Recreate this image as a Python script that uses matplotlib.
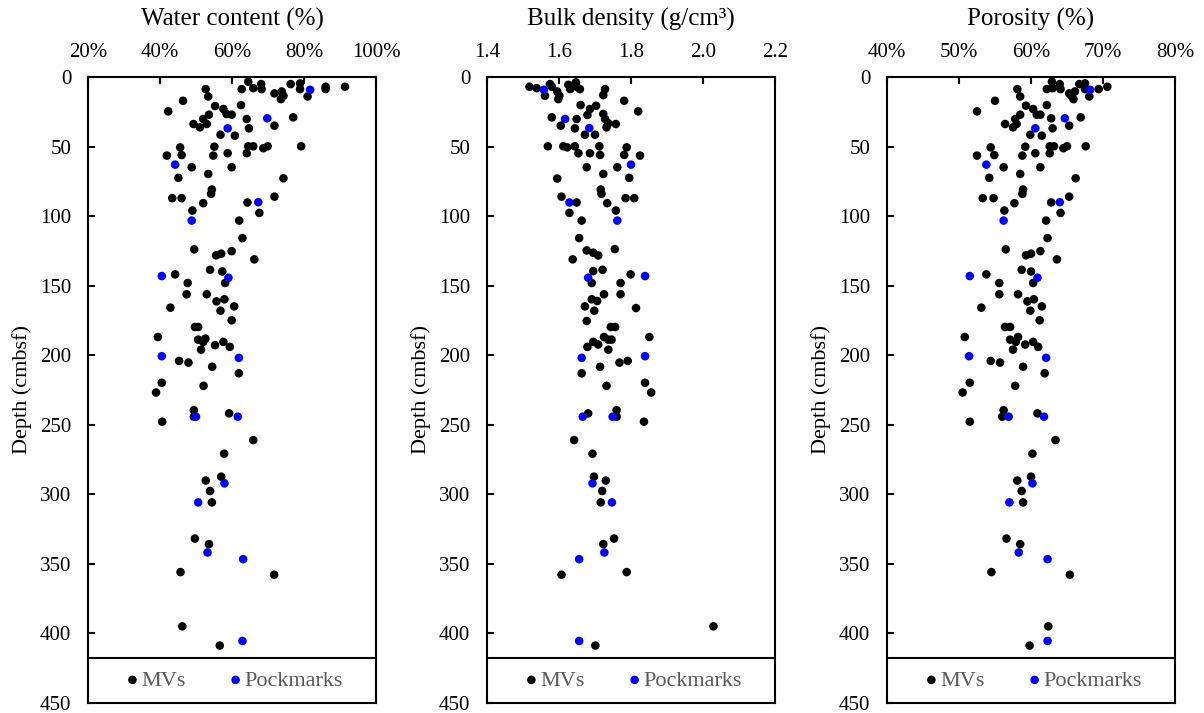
import matplotlib
matplotlib.use('Agg')
import matplotlib.pyplot as plt

plt.rcParams['font.family'] = ['Liberation Serif', 'DejaVu Serif']

# ---- Water content (%) ----
wc_mv = [64.5, 62.7, 65.9, 68.1, 68.2, 76.3, 78.9, 78.9, 81.0, 86.0, 86.0, 91.4, 71.8, 73.8, 74.3, 73.6,
         52.7, 53.4, 46.4, 42.3, 55.3, 57.6, 58.5, 59.9, 62.5, 64.1, 71.8, 77.0, 49.3, 51.1, 52.0, 53.0,
         53.6, 56.8, 60.8, 64.7, 55.1, 54.8, 58.8, 64.5, 65.9, 64.1, 68.7, 69.9, 79.2, 45.6, 46.0, 41.9,
         48.8, 59.9, 53.4, 45.1, 74.3, 54.4, 54.2, 43.4, 46.0, 52.0, 64.3, 71.8, 67.6, 49.0, 62.0, 62.9,
         49.5, 55.6, 57.0, 59.9, 66.2, 53.9, 57.3, 44.2, 47.7, 58.1, 47.4, 53.0, 55.7, 57.9, 60.6, 42.9,
         56.8, 59.9, 49.7, 50.6, 39.4, 50.6, 52.6, 52.0, 51.4, 55.3, 57.6, 59.4, 45.3, 47.9, 54.5, 61.9,
         40.5, 38.9, 52.1, 49.4, 49.4, 59.2, 40.6, 65.9, 57.8, 57.0, 52.7, 53.9, 54.4, 49.7, 53.6, 45.7,
         71.7, 46.2, 56.6]
wc_mv_depth = [3.4, 8.7, 8.0, 5.1, 8.7, 5.1, 4.6, 8.7, 14.0, 7.0, 8.7, 7.0, 11.8, 10.4, 13.5, 15.9,
               8.7, 14.0, 17.1, 24.7, 20.9, 23.0, 26.6, 27.1, 20.2, 30.2, 35.0, 29.0, 33.8, 36.2, 30.2, 33.8,
               27.1, 41.5, 42.2, 36.9, 50.1, 56.5, 54.8, 49.8, 49.8, 54.8, 51.2, 49.8, 49.8, 50.6, 56.1, 56.5,
               64.9, 64.9, 69.7, 72.5, 72.8, 80.9, 84.0, 87.1, 87.1, 90.7, 90.2, 86.0, 97.7, 96.0, 103.2, 115.8,
               123.9, 128.2, 127.0, 125.2, 131.1, 138.6, 139.8, 141.9, 148.1, 148.1, 156.2, 156.2, 161.3, 159.8, 164.9, 165.8,
               168.0, 174.9, 179.7, 179.7, 186.9, 188.8, 188.1, 190.4, 196.0, 192.8, 190.4, 194.0, 204.1, 205.3, 208.3, 213.0,
               219.8, 226.8, 222.0, 239.5, 244.2, 241.8, 247.8, 261.0, 270.8, 287.3, 290.1, 297.6, 305.8, 331.8, 335.8, 355.9,
               357.8, 394.9, 408.7]
wc_pm = [81.7, 69.8, 58.8, 44.2, 67.3, 48.8, 40.5, 59.0, 40.5, 61.9, 50.0, 61.6, 57.9, 50.6, 53.2, 63.1, 62.9]
wc_pm_depth = [9.2, 29.7, 36.9, 63.0, 90.0, 103.2, 143.1, 144.3, 200.7, 201.9, 244.2, 244.2, 292.1, 305.8,
               341.8, 346.6, 405.4]

# ---- Bulk density (g/cm3) ----
bd_mv = [1.518, 1.538, 1.561, 1.575, 1.580, 1.595, 1.601, 1.598, 1.626, 1.631, 1.647, 1.649, 1.658, 1.728,
         1.723, 1.781, 1.820, 1.660, 1.686, 1.703, 1.679, 1.723, 1.728, 1.737, 1.758, 1.732, 1.580, 1.605,
         1.649, 1.644, 1.672, 1.700, 1.569, 1.612, 1.623, 1.644, 1.654, 1.686, 1.712, 1.714, 1.788, 1.781,
         1.825, 1.677, 1.762, 1.723, 1.795, 1.595, 1.716, 1.718, 1.607, 1.649, 1.734, 1.785, 1.809, 1.758,
         1.629, 1.663, 1.656, 1.677, 1.695, 1.709, 1.755, 1.638, 1.695, 1.721, 1.799, 1.691, 1.771, 1.725,
         1.771, 1.691, 1.706, 1.672, 1.698, 1.814, 1.677, 1.744, 1.756, 1.851, 1.725, 1.737, 1.746, 1.695,
         1.709, 1.679, 1.737, 1.768, 1.791, 1.714, 1.663, 1.732, 1.839, 1.856, 1.681, 1.760, 1.760, 1.836,
         1.642, 1.693, 1.697, 1.730, 1.720, 1.716, 1.753, 1.723, 1.788, 1.607, 2.029, 1.701]
bd_mv_depth = [7.0, 8.0, 13.5, 5.1, 7.0, 10.4, 13.5, 15.9, 5.6, 8.7, 3.9, 7.0, 8.7, 8.7,
               13.0, 17.1, 24.7, 20.2, 23.0, 20.7, 27.3, 26.6, 30.2, 33.3, 33.8, 36.2, 29.0, 35.0,
               30.2, 36.9, 41.5, 41.5, 49.8, 49.8, 50.6, 49.8, 54.8, 54.8, 49.8, 56.0, 50.6, 56.0,
               56.5, 64.9, 64.9, 69.7, 72.5, 73.0, 80.9, 84.0, 86.0, 90.2, 90.7, 87.1, 87.1, 96.0,
               97.7, 103.2, 115.8, 124.7, 126.3, 128.3, 123.7, 131.1, 139.5, 138.6, 141.9, 148.1, 148.1, 156.2,
               156.2, 159.8, 161.0, 164.9, 168.0, 166.1, 175.4, 179.7, 179.7, 186.9, 186.9, 188.8, 188.8, 190.4,
               192.3, 194.0, 196.0, 205.3, 204.1, 208.3, 213.0, 222.0, 219.8, 226.8, 241.8, 239.5, 244.2, 247.8,
               261.0, 270.8, 287.3, 290.1, 297.6, 305.8, 331.8, 335.8, 355.9, 357.8, 394.9, 408.7]
bd_pm = [1.558, 1.617, 1.684, 1.800, 1.629, 1.762, 1.681, 1.839, 1.663, 1.839, 1.666, 1.749, 1.693, 1.747,
         1.726, 1.656, 1.656]
bd_pm_depth = [9.2, 30.2, 36.7, 63.0, 90.2, 103.2, 144.3, 143.1, 201.9, 200.7, 244.2, 244.2, 292.1, 305.8,
               341.8, 346.6, 405.4]

# ---- Porosity (%) ----
por_mv = [62.9, 62.2, 63.0, 64.0, 64.1, 66.7, 67.5, 67.5, 68.1, 69.4, 70.6, 65.3, 66.1, 65.6, 65.9, 58.1,
          58.5, 55.0, 52.5, 59.3, 60.3, 60.8, 61.3, 62.2, 62.8, 65.3, 66.9, 56.4, 57.5, 57.8, 58.0, 58.5,
          59.9, 61.5, 63.0, 59.2, 58.8, 60.6, 62.6, 63.2, 62.6, 64.5, 65.0, 67.6, 54.4, 54.9, 52.5,
          56.2, 61.3, 58.5, 54.2, 66.2, 58.9, 58.8, 53.3, 54.8, 57.7, 62.8, 65.3, 64.1, 56.3, 62.1, 62.3,
          56.5, 59.3, 60.0, 61.3, 63.6, 58.7, 60.0, 53.8, 55.6, 60.3, 55.6, 58.2, 59.5, 60.4, 61.5, 53.1,
          59.9, 61.2, 56.4, 57.1, 50.8, 57.1, 58.2, 57.9, 57.5, 59.2, 60.3, 61.0, 54.4, 55.7, 58.9, 61.9,
          51.5, 50.5, 57.8, 56.2, 56.0, 60.9, 51.5, 63.4, 60.2, 60.0, 58.1, 58.7, 58.9, 56.6, 58.5, 54.5,
          65.4, 62.4, 59.8]
por_mv_depth = [3.4, 8.7, 8.0, 5.1, 8.7, 5.1, 4.6, 8.7, 14.0, 8.7, 7.0, 11.8, 10.4, 13.5, 15.9, 8.7,
                14.0, 17.1, 24.7, 20.6, 23.0, 27.1, 27.1, 20.2, 29.7, 35.0, 29.0, 33.8, 36.2, 30.2, 33.8, 27.1,
                41.5, 42.2, 36.9, 50.1, 56.5, 54.8, 49.8, 49.8, 54.8, 51.2, 49.8, 49.8, 50.6, 56.1, 56.5,
                64.9, 64.9, 69.7, 72.5, 72.8, 80.9, 84.0, 87.1, 87.1, 90.7, 90.2, 86.0, 97.7, 96.0, 103.2, 115.8,
                123.9, 128.2, 127.0, 125.2, 131.1, 138.6, 139.8, 141.9, 148.1, 148.1, 156.2, 156.2, 161.3, 159.8, 164.9, 165.8,
                168.0, 174.9, 179.7, 179.7, 186.9, 188.8, 186.9, 190.4, 196.0, 192.3, 190.4, 194.0, 204.1, 205.3, 208.3, 213.0,
                219.8, 226.8, 222.0, 239.5, 244.2, 241.8, 247.8, 261.0, 270.8, 287.3, 290.1, 297.6, 305.8, 331.8, 335.8, 355.9,
                357.8, 394.9, 408.7]
por_pm = [68.2, 64.7, 60.6, 53.8, 64.0, 56.2, 51.5, 60.9, 51.4, 62.1, 56.9, 61.8, 60.2, 57.0, 58.3, 62.3, 62.3]
por_pm_depth = [9.2, 29.7, 36.9, 63.0, 90.0, 103.2, 143.1, 144.3, 200.7, 201.9, 244.2, 244.2, 292.1, 305.8,
                341.8, 346.6, 405.4]

panels = [
    ('Water content (%)', wc_mv, wc_mv_depth, wc_pm, wc_pm_depth,
     [20, 40, 60, 80, 100], ['20%', '40%', '60%', '80%', '100%']),
    ('Bulk density (g/cm³)', bd_mv, bd_mv_depth, bd_pm, bd_pm_depth,
     [1.4, 1.6, 1.8, 2.0, 2.2], ['1.4', '1.6', '1.8', '2.0', '2.2']),
    ('Porosity (%)', por_mv, por_mv_depth, por_pm, por_pm_depth,
     [40, 50, 60, 70, 80], ['40%', '50%', '60%', '70%', '80%']),
]
depth_ticks = list(range(0, 451, 50))
legend_line = 417.4

fig = plt.figure(figsize=(12.04, 7.13), dpi=100)
lefts = [88, 487, 887]

for left, (title, mv, mv_d, pm, pm_d, xt, xtl) in zip(lefts, panels):
    ax = fig.add_axes([left / 1204, 10 / 713, 288 / 1204, 626 / 713])
    ax.scatter(mv, mv_d, s=38, color='black', edgecolors='none', label='MVs', zorder=3)
    ax.scatter(pm, pm_d, s=38, color='#0000FF', edgecolors='none', label='Pockmarks', zorder=4)
    ax.set_xlim(xt[0], xt[-1])
    ax.set_ylim(450, 0)
    ax.set_xticks(xt)
    ax.set_xticklabels(xtl)
    ax.set_yticks(depth_ticks)
    ax.xaxis.tick_top()
    ax.tick_params(axis='x', direction='in', length=5, width=1.5, pad=11, labelsize=15)
    ax.tick_params(axis='y', direction='in', length=5, width=1.5, pad=12, labelsize=15)
    for sp in ax.spines.values():
        sp.set_linewidth(1.5)
    # strip at the bottom that holds the legend
    ax.axhline(legend_line, color='black', lw=1.5, zorder=5)
    ax.text(0.5, 1.0927, title, transform=ax.transAxes, ha='center', va='center', fontsize=18)
    ax.set_ylabel('Depth (cmbsf)', fontsize=16)
    ax.yaxis.set_label_coords(-0.194, 0.5)
    ax.legend(loc='center', bbox_to_anchor=(0.51, 0.036), ncol=2, frameon=False, fontsize=16,
              handlelength=0.5, handletextpad=0.15, columnspacing=2.0, labelcolor='#595959',
              borderaxespad=0, scatterpoints=1)

fig.savefig('out.png', dpi=100)
